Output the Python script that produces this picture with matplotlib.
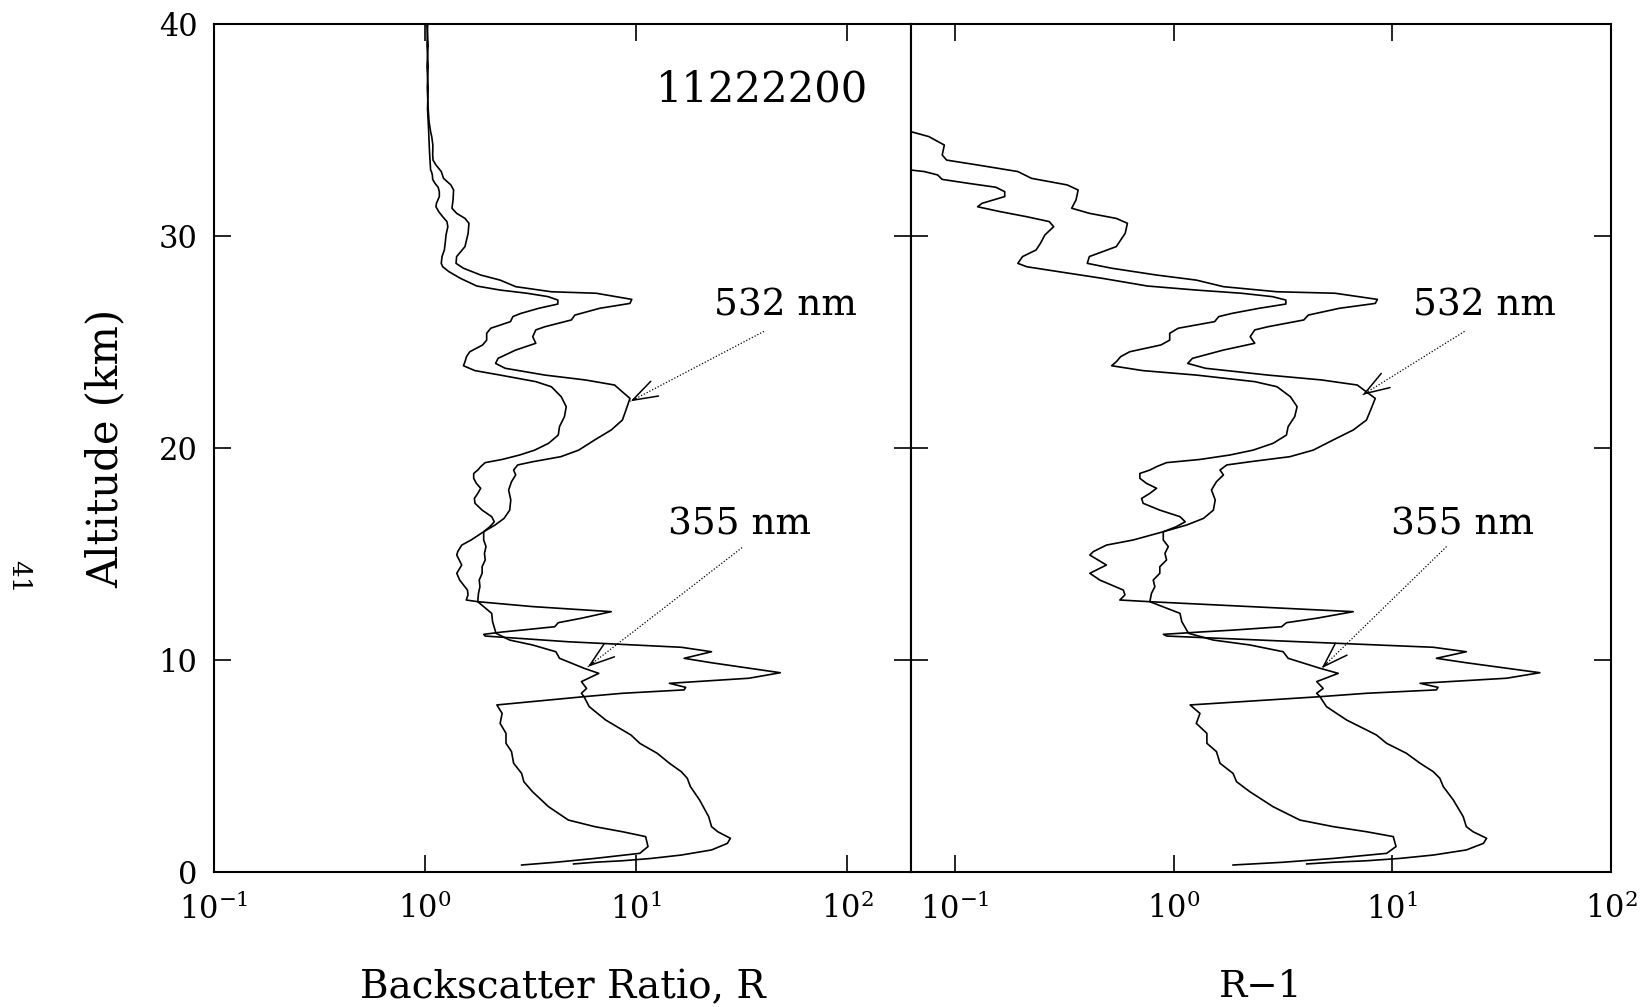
import matplotlib.pyplot as plt
import numpy as np
from matplotlib.ticker import LogLocator, NullLocator, LogFormatterMathtext

plt.rcParams['font.family'] = ['DejaVu Serif']
plt.rcParams['mathtext.fontset'] = 'dejavuserif'

# profiles: altitude (km) and R-1
alt_532 = [40.0, 39.0, 38.0, 37.0, 36.0, 35.4, 34.92, 34.69, 34.29, 33.82, 33.58, 33.35,
           33.04, 32.72, 32.41, 32.17, 31.70, 31.31, 31.07, 30.83, 30.60, 30.13, 29.50,
           29.03, 28.71, 28.48, 28.16, 27.92, 27.61, 27.37, 27.30, 27.01, 26.82, 26.59,
           26.27, 26.04, 25.72, 25.57, 25.25, 24.94, 24.62, 24.23, 23.99, 23.76, 23.44,
           23.21, 22.97, 22.73, 22.34, 21.79, 21.32, 20.85, 20.38, 19.90, 19.59, 19.35,
           19.20, 18.96, 18.73, 18.41, 18.02, 17.55, 17.07, 16.68, 16.37, 16.05, 15.66,
           15.42, 15.11, 14.95, 14.48, 14.09, 13.77, 13.30, 13.07, 12.83, 12.75, 12.52,
           12.28, 11.97, 11.76, 11.57, 11.41, 11.32, 11.21, 11.13, 10.86, 10.60, 10.39,
           10.08, 9.87, 9.40, 9.14, 8.90, 8.71, 8.59, 8.43, 8.27, 7.80, 7.17, 6.70, 6.46,
           6.07, 5.60, 5.13, 4.73, 4.42, 4.03, 3.40, 2.61, 2.14, 1.90, 1.59, 1.35, 1.04,
           0.80, 0.64, 0.53, 0.46, 0.38]
rm1_532 = [0.030, 0.022, 0.035, 0.025, 0.035, 0.045, 0.063, 0.076, 0.0895, 0.0875, 0.0917,
           0.127, 0.194, 0.224, 0.326, 0.366, 0.358, 0.342, 0.412, 0.547, 0.615, 0.601,
           0.547, 0.412, 0.403, 0.521, 0.834, 1.27, 1.69, 2.97, 5.47, 8.55, 8.36, 5.73,
           4.13, 3.94, 2.70, 2.35, 2.24, 2.35, 1.69, 1.22, 1.16, 1.40, 2.70, 4.75, 6.92,
           7.43, 8.36, 7.96, 7.62, 6.63, 5.37, 4.35, 3.40, 2.23, 1.75, 1.63, 1.69, 1.57,
           1.49, 1.55, 1.52, 1.37, 1.15, 0.897, 0.653, 0.493, 0.429, 0.414, 0.493, 0.414,
           0.460, 0.589, 0.599, 0.568, 0.779, 2.23, 6.63, 4.51, 3.28, 3.12, 1.87, 1.32,
           0.898, 0.929, 3.78, 15.4, 21.8, 15.9, 21.8, 47.3, 33.3, 13.4, 16.2, 15.9, 7.62,
           4.67, 5.00, 6.18, 7.62, 8.47, 9.42, 11.6, 13.4, 15.4, 16.5, 17.1, 19.0, 21.1,
           21.8, 23.4, 27.0, 26.1, 21.8, 15.4, 10.8, 7.62, 5.37, 4.06]

alt_355 = [40.0, 39.0, 38.0, 37.0, 36.0, 35.0, 34.0, 33.11, 33.04, 32.88, 32.67, 32.48,
           32.30, 32.09, 31.86, 31.54, 31.38, 31.15, 30.91, 30.68, 30.44, 30.05, 29.65,
           29.34, 29.03, 28.71, 28.55, 28.32, 28.00, 27.64, 27.45, 27.30, 27.14, 26.98,
           26.79, 26.59, 26.35, 26.20, 25.96, 25.65, 25.41, 25.09, 24.86, 24.54, 24.31,
           24.07, 23.88, 23.65, 23.44, 23.13, 22.89, 22.42, 21.95, 21.48, 21.01, 20.61,
           20.22, 19.90, 19.67, 19.46, 19.31, 19.12, 18.96, 18.80, 18.57, 18.33, 18.10,
           17.86, 17.62, 17.39, 17.07, 16.76, 16.52, 16.29, 16.05, 15.66, 15.35, 15.03,
           14.72, 14.40, 14.09, 13.77, 13.46, 13.14, 12.75, 12.20, 11.81, 11.26, 10.94,
           10.71, 10.39, 10.08, 9.61, 9.37, 8.98, 8.66, 8.43, 8.27, 7.88, 7.48, 7.01,
           6.54, 6.07, 5.68, 5.13, 4.65, 4.26, 3.79, 3.08, 2.45, 2.14, 1.90, 1.67, 1.20,
           0.88, 0.64, 0.46, 0.33]
rm1_355 = [0.020, 0.035, 0.022, 0.035, 0.028, 0.040, 0.050, 0.063, 0.0725, 0.0834, 0.0875,
           0.116, 0.154, 0.169, 0.169, 0.133, 0.127, 0.161, 0.213, 0.270, 0.283, 0.258,
           0.246, 0.235, 0.204, 0.194, 0.213, 0.297, 0.474, 0.760, 1.27, 2.04, 2.83, 3.26,
           3.26, 2.46, 1.85, 1.61, 1.54, 1.05, 0.96, 0.96, 0.875, 0.630, 0.573, 0.547,
           0.521, 0.724, 1.27, 2.35, 2.97, 3.42, 3.67, 3.58, 3.34, 3.28, 2.85, 2.31, 1.81,
           1.32, 0.929, 0.836, 0.779, 0.701, 0.701, 0.752, 0.836, 0.779, 0.714, 0.726,
           0.865, 1.07, 1.13, 1.03, 0.897, 0.897, 0.946, 0.913, 0.929, 0.865, 0.865, 0.807,
           0.821, 0.792, 0.779, 1.07, 1.09, 1.17, 1.52, 2.23, 3.17, 3.34, 4.67, 5.66, 4.51,
           4.83, 4.51, 4.67, 1.19, 1.32, 1.27, 1.42, 1.42, 1.57, 1.63, 1.87, 1.94, 2.23,
           2.85, 3.78, 5.37, 7.62, 10.1, 10.4, 9.42, 5.37, 3.17, 1.87]

# arrow labels: (text, text position, arrow tail, arrow head) in data units
notes_left = [("532 nm", (51.0, 26.7), (40.4, 25.5), (9.4, 22.2)),
              ("355 nm", (31.0, 16.4), (31.8, 15.3), (5.9, 9.67))]
notes_right = [("532 nm", (26.5, 26.7), (21.4, 25.5), (7.3, 22.5)),
               ("355 nm", (21.0, 16.4), (17.7, 15.35), (4.75, 9.61))]

fig = plt.figure(figsize=(16.46, 10.07), dpi=100)
ax1 = fig.add_axes([214/1646, 135/1007, 697/1646, 848/1007])
ax2 = fig.add_axes([911/1646, 135/1007, 700/1646, 848/1007])

r532 = np.array(rm1_532) + 1
r355 = np.array(rm1_355) + 1
ax1.plot(r532, alt_532, color="k", lw=1.2)
ax1.plot(r355, alt_355, color="k", lw=1.2)
ax2.plot(rm1_532, alt_532, color="k", lw=1.2)
ax2.plot(rm1_355, alt_355, color="k", lw=1.2)

ax1.set_xlim(0.1, 201)
ax2.set_xlim(0.063, 100)


def draw_note(ax, text, txy, tail, head):
    ax.text(txy[0], txy[1], text, fontsize=27, ha="center", va="center")
    ax.plot([tail[0], head[0]], [tail[1], head[1]], color="k", lw=0.9, ls=(0, (1, 1.5)))
    near = (tail[0] * (head[0] / tail[0]) ** 0.96, tail[1] + 0.96 * (head[1] - tail[1]))
    ax.annotate("", xy=head, xytext=near,
                arrowprops=dict(arrowstyle="->,head_length=0.9,head_width=0.3",
                                lw=1.1, color="k", mutation_scale=20,
                                shrinkA=0, shrinkB=0))


for n in notes_left:
    draw_note(ax1, *n)
for n in notes_right:
    draw_note(ax2, *n)

for ax in (ax1, ax2):
    ax.set_xscale("log")
    ax.set_ylim(0, 40)
    ax.xaxis.set_major_locator(LogLocator(base=10, numticks=10))
    ax.xaxis.set_minor_locator(NullLocator())
    ax.xaxis.set_major_formatter(LogFormatterMathtext())
    ax.set_yticks([0, 10, 20, 30, 40])
    ax.tick_params(axis="both", which="major", direction="in", top=True, right=True,
                   length=12, width=1.2, labelsize=22)
    ax.tick_params(axis="x", pad=15)
    ax.tick_params(axis="y", pad=12)
    for s in ax.spines.values():
        s.set_linewidth(1.5)

ax2.tick_params(axis="y", labelleft=False)

ax1.set_ylabel("Altitude (km)", fontsize=30)
ax1.yaxis.set_label_coords(-0.155, 0.5)
ax1.yaxis.label.set_va("center")
ax1.set_xlabel("Backscatter Ratio, R", fontsize=28)
ax1.xaxis.set_label_coords(0.5, -0.136)
ax1.xaxis.label.set_va("center")
ax2.set_xlabel("R\u22121", fontsize=27)
ax2.xaxis.set_label_coords(0.5, -0.136)
ax2.xaxis.label.set_va("center")

ax1.text(0.786, 0.923, "11222200", transform=ax1.transAxes, fontsize=30,
         ha="center", va="center")

fig.text(19/1646, 1 - 577/1007, "41", rotation=-90, fontsize=19, ha="center", va="center")

fig.savefig("out.png", dpi=100)
